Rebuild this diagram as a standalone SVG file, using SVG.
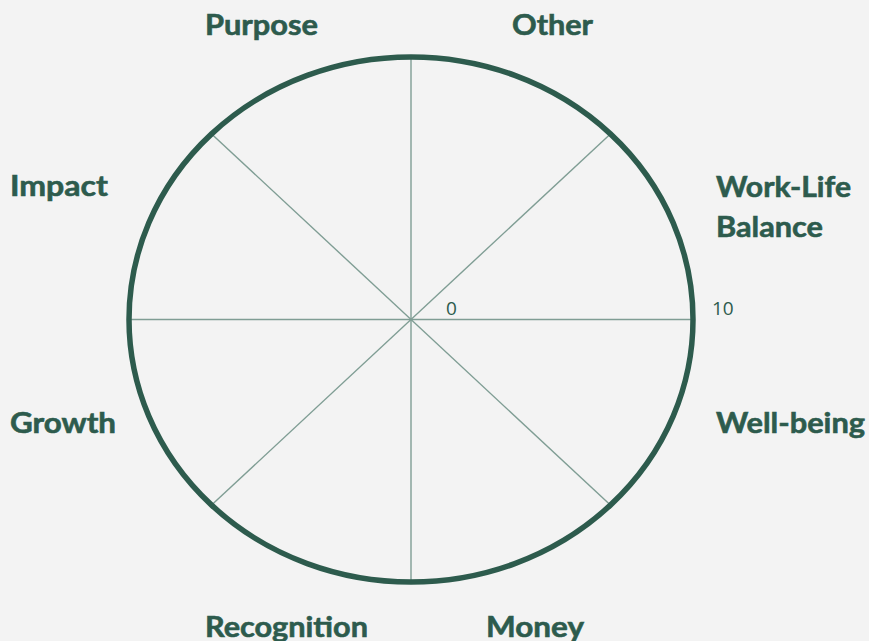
<svg xmlns="http://www.w3.org/2000/svg" width="869" height="641" viewBox="0 0 869 641">
  <style>
    .bg { fill: #f3f3f3; }
    .rim { fill: none; stroke: #2d5b4d; stroke-width: 5.5; }
    .spoke { stroke: #7f9d94; stroke-width: 1.4; fill: none; }
    .label { font-family: "Lato", "Open Sans", "Liberation Sans", sans-serif; font-weight: 700; font-size: 29px; fill: #2d5b4d; stroke: #2d5b4d; stroke-width: 0.6; }
    .scale { font-family: "Open Sans", "Liberation Sans", sans-serif; font-size: 19px; fill: #2d5b4d; }
  </style>

  <rect class="bg" x="0" y="0" width="869" height="641"/>

  <!-- wheel: spokes from the centre out to the rim -->
  <g id="connectors">
    <line class="spoke" x1="411" y1="57" x2="411" y2="582"/>
    <line class="spoke" x1="129" y1="319.5" x2="693" y2="319.5"/>
    <line class="spoke" x1="211.6" y1="133.9" x2="610.4" y2="505.1"/>
    <line class="spoke" x1="610.4" y1="133.9" x2="211.6" y2="505.1"/>
  </g>

  <g id="rim">
    <ellipse class="rim" cx="411" cy="319.5" rx="282" ry="262.5"/>
  </g>

  <!-- scale markers along the horizontal spoke -->
  <g id="scale-0"><text class="scale" x="446" y="314.5">0</text></g>
  <g id="scale-10"><text class="scale" x="712" y="314.5">10</text></g>

  <!-- segment labels -->
  <g id="purpose"><text class="label" x="205" y="35" textLength="113" lengthAdjust="spacingAndGlyphs">Purpose</text></g>
  <g id="other"><text class="label" x="512" y="35" textLength="81" lengthAdjust="spacingAndGlyphs">Other</text></g>
  <g id="impact"><text class="label" x="10" y="196" textLength="98" lengthAdjust="spacingAndGlyphs">Impact</text></g>
  <g id="work-life-balance">
    <text class="label" x="716" y="197" textLength="135" lengthAdjust="spacingAndGlyphs">Work-Life</text>
    <text class="label" x="716" y="236.5" textLength="107" lengthAdjust="spacingAndGlyphs">Balance</text>
  </g>
  <g id="growth"><text class="label" x="10" y="433" textLength="106" lengthAdjust="spacingAndGlyphs">Growth</text></g>
  <g id="well-being"><text class="label" x="716" y="433" textLength="149" lengthAdjust="spacingAndGlyphs">Well-being</text></g>
  <g id="recognition"><text class="label" x="205" y="636.5" textLength="163" lengthAdjust="spacingAndGlyphs">Recognition</text></g>
  <g id="money"><text class="label" x="486" y="636.5" textLength="98" lengthAdjust="spacingAndGlyphs">Money</text></g>
</svg>
